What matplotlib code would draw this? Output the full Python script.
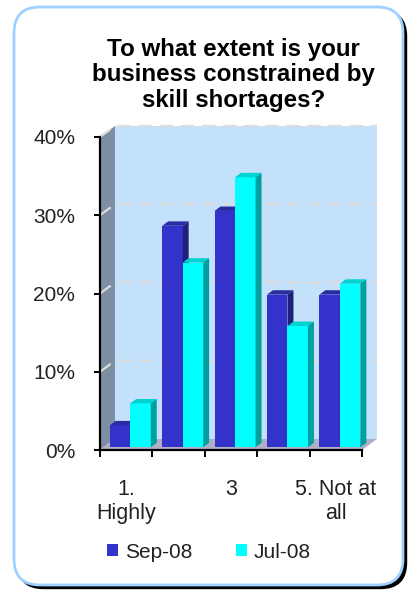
import matplotlib.pyplot as plt
from matplotlib.patches import Polygon, FancyBboxPatch
from matplotlib.ticker import FuncFormatter

plt.rcParams['font.family'] = ['Liberation Sans', 'DejaVu Sans']

# survey answers, share of respondents in %
categories = ["1.\nHighly", "2", "3", "4", "5. Not at\nall"]
sep_08 = [2.8, 28.3, 30.2, 19.5, 19.5]
jul_08 = [5.6, 23.6, 34.5, 15.5, 20.9]
series_names = ["Sep-08", "Jul-08"]

# fake 3d depth of the plot box (category units, percent units)
DX, DY = 0.286, 1.41
FRONT = 0.25      # bars start this far into the depth
DEPTH = 0.40      # and are this deep
GAP, W = 0.115, 0.391

faces = {
    "Sep-08": ("#3333cc", "#2a2aa2", "#1f1f7c"),
    "Jul-08": ("#00ffff", "#00d2d2", "#00a0a0"),
}

fig = plt.figure(figsize=(4.11, 5.90), dpi=100)

# rounded frame with a dark drop shadow
shadow = FancyBboxPatch((0.175, 0.015), 3.89, 5.78, boxstyle="round,pad=0,rounding_size=0.26",
                        transform=fig.dpi_scale_trans, facecolor="black", edgecolor="black",
                        lw=1, zorder=-3)
frame = FancyBboxPatch((0.14, 0.05), 3.89, 5.78, boxstyle="round,pad=0,rounding_size=0.26",
                       transform=fig.dpi_scale_trans, facecolor="white", edgecolor="#9fd0ff",
                       lw=2, zorder=-2)
fig.patches.extend([shadow, frame])

fig.text(0.569, 0.873, "To what extent is your\nbusiness constrained by\nskill shortages?",
         ha="center", va="center", fontsize=17.4, fontweight="bold", linespacing=1.16)

ax = fig.add_axes([100 / 411, 140 / 590, 262 / 411, 313 / 590])
ax.set_xlim(0, 5)
ax.set_ylim(0, 40)
ax.patch.set_visible(False)

# walls and floor
ax.add_patch(Polygon([(0, 0), (DX, DY), (DX, 40 + DY), (0, 40)], closed=True,
                     facecolor="#7d8ea2", edgecolor="none", zorder=0, clip_on=False))
ax.add_patch(Polygon([(DX, DY), (5 + DX, DY), (5 + DX, 40 + DY), (DX, 40 + DY)], closed=True,
                     facecolor="#c4e1fc", edgecolor="none", zorder=0, clip_on=False))
ax.add_patch(Polygon([(0, 0), (5, 0), (5 + DX, DY), (DX, DY)], closed=True,
                     facecolor="#b0afc6", edgecolor="none", zorder=0, clip_on=False))

for v in [10, 20, 30, 40]:
    ax.plot([0, DX, 5 + DX], [v, v + DY, v + DY], color="#dcdcdc", lw=1.6,
            dashes=(6, 3.5), zorder=1, clip_on=False)

fdx, fdy = FRONT * DX, FRONT * DY
bdx, bdy = DEPTH * DX, DEPTH * DY

handles = []
for k, (name, vals) in enumerate(zip(series_names, [sep_08, jul_08])):
    front, top, side = faces[name]
    xs = [i + GAP + k * W + fdx for i in range(len(vals))]
    z = 3 + 2 * k
    bars = ax.bar(xs, vals, width=W, bottom=fdy, align="edge", color=front,
                  edgecolor="none", zorder=z, clip_on=False, label=name)
    handles.append(bars)
    for x0, v in zip(xs, vals):
        x1, t = x0 + W, v + fdy
        ax.add_patch(Polygon([(x0, t), (x1, t), (x1 + bdx, t + bdy), (x0 + bdx, t + bdy)],
                             closed=True, facecolor=top, edgecolor="none", zorder=z, clip_on=False))
        ax.add_patch(Polygon([(x1, fdy), (x1, t), (x1 + bdx, t + bdy), (x1 + bdx, fdy + bdy)],
                             closed=True, facecolor=side, edgecolor="none", zorder=z, clip_on=False))

for s in ["top", "right"]:
    ax.spines[s].set_visible(False)
for s in ["left", "bottom"]:
    ax.spines[s].set_linewidth(1.6)
    ax.spines[s].set_zorder(8)

ax.set_yticks([0, 10, 20, 30, 40])
ax.yaxis.set_major_formatter(FuncFormatter(lambda v, p: f"{v:.0f}%"))
ax.tick_params(axis="y", direction="out", length=4, width=1.4, pad=14,
               labelsize=15, labelcolor="#222222")

ax.set_xticks(range(6))
ax.set_xticklabels([])
ax.tick_params(axis="x", which="major", direction="out", length=5, width=1.4)
ax.set_xticks([0.5, 2.5, 4.5], minor=True)
ax.set_xticklabels(categories[::2], minor=True)
ax.tick_params(axis="x", which="minor", length=0, pad=21, labelsize=15.5,
               labelcolor="#222222")

fig.legend(handles=handles, labels=series_names, loc="center", bbox_to_anchor=(0.508, 0.0644),
           ncol=2, frameon=False, fontsize=15, handlelength=0.55, handleheight=0.55,
           handletextpad=0.3, columnspacing=2.1, labelcolor="#222222")

fig.savefig("out.png", dpi=100)
